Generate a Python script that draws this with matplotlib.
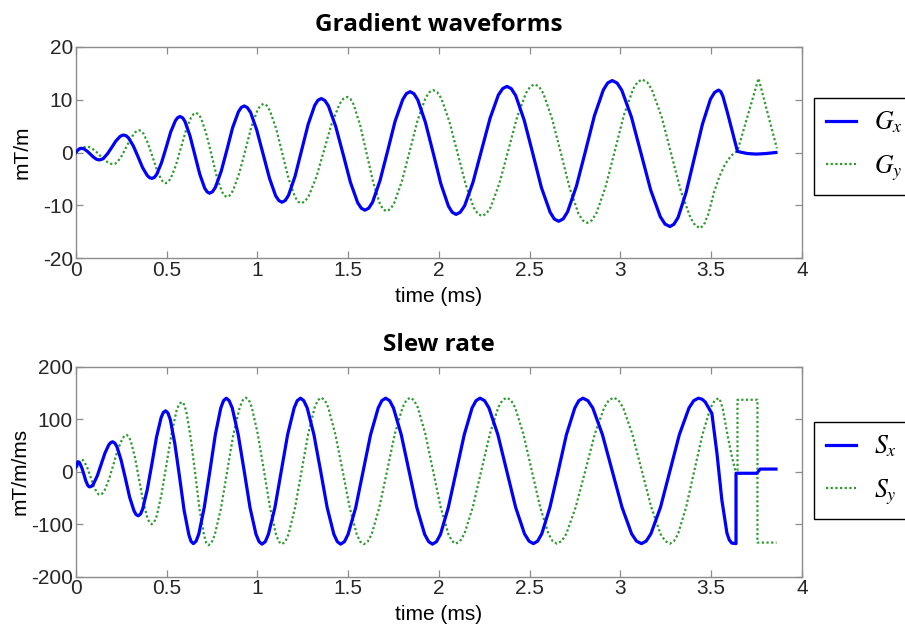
import matplotlib
matplotlib.use("Agg")
import matplotlib.pyplot as plt

# Gradient waveforms (mT/m)
gx_t = [0.000, 0.010, 0.020, 0.030,
        0.038, 0.047, 0.063, 0.080, 0.097, 0.113, 0.122, 0.130,
        0.141, 0.153, 0.175, 0.198, 0.220, 0.243, 0.254, 0.265,
        0.278, 0.291, 0.317, 0.343, 0.368, 0.394, 0.407, 0.420,
        0.433, 0.446, 0.472, 0.498, 0.523, 0.549, 0.562, 0.575,
        0.589, 0.602, 0.629, 0.656, 0.683, 0.710, 0.724, 0.737,
        0.753, 0.769, 0.801, 0.833, 0.864, 0.896, 0.912, 0.928,
        0.945, 0.963, 0.997, 1.032, 1.067, 1.101, 1.119, 1.136,
        1.154, 1.172, 1.208, 1.244, 1.280, 1.316, 1.334, 1.352,
        1.372, 1.392, 1.432, 1.473, 1.513, 1.553, 1.573, 1.593,
        1.614, 1.635, 1.676, 1.718, 1.759, 1.801, 1.821, 1.842,
        1.863, 1.884, 1.926, 1.969, 2.011, 2.053, 2.074, 2.095,
        2.118, 2.142, 2.188, 2.235, 2.282, 2.328, 2.352, 2.375,
        2.399, 2.423, 2.470, 2.518, 2.565, 2.613, 2.636, 2.660,
        2.685, 2.709, 2.758, 2.808, 2.857, 2.906, 2.930, 2.955,
        2.982, 3.008, 3.061, 3.114, 3.167, 3.220, 3.246, 3.273,
        3.295, 3.318, 3.362, 3.407, 3.452, 3.496, 3.519, 3.541,
        3.553, 3.565, 3.590, 3.618, 3.645, 3.700, 3.750, 3.800, 3.857]
gx_v = [0.0, 0.4, 0.7, 0.8,
        0.76, 0.65, 0.25, -0.3, -0.85, -1.25, -1.36, -1.4,
        -1.32, -1.09, -0.23, 0.95, 2.13, 2.99, 3.22, 3.3,
        3.16, 2.75, 1.25, -0.8, -2.85, -4.35, -4.76, -4.9,
        -4.70, -4.12, -1.98, 0.95, 3.88, 6.02, 6.60, 6.8,
        6.55, 5.83, 3.18, -0.45, -4.08, -6.73, -7.45, -7.7,
        -7.42, -6.59, -3.58, 0.55, 4.68, 7.69, 8.52, 8.8,
        8.49, 7.58, 4.25, -0.3, -4.85, -8.18, -9.09, -9.4,
        -9.07, -8.09, -4.5, 0.4, 5.3, 8.89, 9.87, 10.2,
        9.84, 8.79, 4.93, -0.35, -5.63, -9.49, -10.54, -10.9,
        -10.52, -9.4, -5.3, 0.3, 5.9, 10.0, 11.12, 11.5,
        11.11, 9.95, 5.7, -0.1, -5.9, -10.15, -11.31, -11.7,
        -11.29, -10.08, -5.65, 0.4, 6.45, 10.88, 12.09, 12.5,
        12.07, 10.79, 6.13, -0.25, -6.63, -11.29, -12.57, -13.0,
        -12.55, -11.22, -6.35, 0.3, 6.95, 11.82, 13.15, 13.6,
        13.13, 11.75, 6.7, -0.2, -7.1, -12.15, -13.53, -14.0,
        -13.56, -12.27, -7.55, -1.1, 5.35, 10.07, 11.36, 11.8,
        11.5, 10.6, 7.5, 3.8, 0.2, -0.2, -0.3, -0.2, 0.0]

gy_t = [0.000, 0.020, 0.040, 0.060,
        0.072, 0.084, 0.109, 0.133, 0.157, 0.182, 0.194, 0.206,
        0.218, 0.230, 0.254, 0.278, 0.302, 0.326, 0.338, 0.350,
        0.362, 0.374, 0.398, 0.423, 0.447, 0.471, 0.483, 0.495,
        0.509, 0.523, 0.551, 0.579, 0.607, 0.635, 0.649, 0.663,
        0.677, 0.691, 0.719, 0.748, 0.776, 0.804, 0.818, 0.832,
        0.849, 0.866, 0.900, 0.934, 0.967, 1.001, 1.018, 1.035,
        1.052, 1.069, 1.104, 1.138, 1.172, 1.207, 1.224, 1.241,
        1.262, 1.283, 1.326, 1.368, 1.410, 1.453, 1.474, 1.495,
        1.513, 1.531, 1.567, 1.603, 1.639, 1.675, 1.693, 1.711,
        1.733, 1.754, 1.797, 1.840, 1.883, 1.926, 1.948, 1.969,
        1.991, 2.014, 2.058, 2.103, 2.148, 2.192, 2.215, 2.237,
        2.261, 2.286, 2.334, 2.383, 2.431, 2.480, 2.504, 2.528,
        2.552, 2.576, 2.624, 2.673, 2.721, 2.769, 2.793, 2.817,
        2.842, 2.868, 2.918, 2.969, 3.019, 3.070, 3.095, 3.120,
        3.147, 3.173, 3.227, 3.280, 3.333, 3.387, 3.413, 3.440,
        3.460, 3.485, 3.515, 3.545, 3.575, 3.610, 3.645, 3.761, 3.862]
gy_v = [0.0, 0.5, 0.95, 1.1,
        1.04, 0.88, 0.28, -0.55, -1.38, -1.98, -2.14, -2.2,
        -2.09, -1.77, -0.6, 1.0, 2.6, 3.77, 4.09, 4.2,
        4.03, 3.53, 1.7, -0.8, -3.3, -5.13, -5.63, -5.8,
        -5.57, -4.91, -2.48, 0.85, 4.18, 6.61, 7.27, 7.5,
        7.23, 6.43, 3.53, -0.45, -4.43, -7.33, -8.13, -8.4,
        -8.1, -7.22, -4.0, 0.4, 4.8, 8.02, 8.9, 9.2,
        8.88, 7.94, 4.5, -0.2, -4.9, -8.34, -9.28, -9.6,
        -9.26, -8.25, -4.58, 0.45, 5.48, 9.15, 10.16, 10.5,
        10.13, 9.05, 5.1, -0.3, -5.7, -9.65, -10.73, -11.1,
        -10.71, -9.57, -5.38, 0.35, 6.08, 10.27, 11.41, 11.8,
        11.4, 10.21, 5.85, -0.1, -6.05, -10.41, -11.6, -12.0,
        -11.58, -10.33, -5.78, 0.45, 6.68, 11.23, 12.48, 12.9,
        12.45, 11.14, 6.35, -0.2, -6.75, -11.54, -12.85, -13.3,
        -12.84, -11.48, -6.53, 0.25, 7.03, 11.98, 13.34, 13.8,
        13.32, 11.92, 6.78, -0.25, -7.28, -12.42, -13.82, -14.3,
        -13.7, -11.6, -7.6, -4.6, -2.3, -0.6, 0.3, 14.0, 0.8]

# Slew rate (mT/m/ms)
sx_t = [0.000, 0.012,
        0.017, 0.023, 0.034, 0.045, 0.055, 0.066, 0.072, 0.077,
        0.088, 0.098, 0.119, 0.140, 0.161, 0.182, 0.193, 0.203,
        0.215, 0.227, 0.250, 0.274, 0.297, 0.321, 0.332, 0.344,
        0.357, 0.369, 0.394, 0.420, 0.445, 0.470, 0.482, 0.495,
        0.508, 0.521, 0.546, 0.572, 0.597, 0.623, 0.635, 0.648,
        0.663, 0.678, 0.708, 0.739, 0.769, 0.799, 0.814, 0.829,
        0.845, 0.862, 0.895, 0.928, 0.960, 0.993, 1.010, 1.026,
        1.044, 1.061, 1.097, 1.132, 1.167, 1.203, 1.220, 1.238,
        1.256, 1.275, 1.312, 1.349, 1.385, 1.422, 1.441, 1.459,
        1.480, 1.500, 1.542, 1.583, 1.624, 1.666, 1.686, 1.707,
        1.729, 1.750, 1.793, 1.836, 1.879, 1.922, 1.944, 1.965,
        1.987, 2.009, 2.052, 2.096, 2.140, 2.183, 2.205, 2.227,
        2.252, 2.276, 2.325, 2.374, 2.423, 2.472, 2.497, 2.521,
        2.544, 2.567, 2.612, 2.658, 2.703, 2.749, 2.771, 2.794,
        2.821, 2.848, 2.901, 2.955, 3.009, 3.062, 3.089, 3.116,
        3.142, 3.168, 3.221, 3.273, 3.325, 3.378, 3.404, 3.430,
        3.450, 3.467, 3.504, 3.532, 3.559, 3.587, 3.600, 3.614, 3.637,
        3.637, 3.752, 3.770, 3.857]
sx_v = [8, 19,
        18.2, 15.8, 7, -5, -17, -25.8, -28.2, -29,
        -27.5, -23.2, -7.5, 14, 35.5, 51.2, 55.5, 57,
        54.6, 47.6, 21.8, -13.5, -48.8, -74.6, -81.6, -84,
        -80.6, -70.6, -34, 16, 66, 102.6, 112.6, 116,
        111.7, 99, 52.8, -10.5, -73.8, -120, -132.7, -137,
        -132.3, -118.4, -67.8, 1.5, 70.8, 121.4, 135.3, 140,
        135.3, 121.4, 70.5, 1, -68.5, -119.4, -133.3, -138,
        -133.3, -119.4, -68.5, 1, 70.5, 121.4, 135.3, 140,
        135.3, 121.4, 70.5, 1, -68.5, -119.4, -133.3, -138,
        -133.3, -119.4, -68.5, 1, 70.5, 121.4, 135.3, 140,
        135.3, 121.4, 70.5, 1, -68.5, -119.4, -133.3, -138,
        -133.3, -119.4, -68.5, 1, 70.5, 121.4, 135.3, 140,
        135.3, 121.4, 70.8, 1.5, -67.8, -118.4, -132.3, -137,
        -132.3, -118.4, -67.8, 1.5, 70.8, 121.4, 135.3, 140,
        135.3, 121.4, 70.8, 1.5, -67.8, -118.4, -132.3, -137,
        -132.3, -118.4, -67.8, 1.5, 70.8, 121.4, 135.3, 140,
        138, 133, 111, 35, -54, -117, -130, -136, -137,
        -3, -3, 5, 5]

sy_t = [0.000, 0.015, 0.031,
        0.040, 0.048, 0.065, 0.082, 0.099, 0.116, 0.125, 0.133,
        0.145, 0.158, 0.182, 0.207, 0.231, 0.256, 0.268, 0.280,
        0.292, 0.303, 0.326, 0.349, 0.372, 0.395, 0.407, 0.418,
        0.432, 0.446, 0.473, 0.501, 0.529, 0.556, 0.570, 0.584,
        0.596, 0.609, 0.633, 0.658, 0.682, 0.707, 0.719, 0.731,
        0.748, 0.765, 0.800, 0.834, 0.868, 0.903, 0.920, 0.937,
        0.954, 0.970, 1.003, 1.037, 1.070, 1.103, 1.119, 1.136,
        1.154, 1.172, 1.208, 1.244, 1.280, 1.316, 1.334, 1.352,
        1.372, 1.391, 1.430, 1.470, 1.509, 1.548, 1.567, 1.587,
        1.608, 1.630, 1.672, 1.715, 1.757, 1.800, 1.821, 1.842,
        1.863, 1.884, 1.926, 1.968, 2.010, 2.052, 2.073, 2.094,
        2.117, 2.141, 2.187, 2.234, 2.281, 2.327, 2.351, 2.374,
        2.397, 2.420, 2.466, 2.512, 2.558, 2.604, 2.627, 2.650,
        2.676, 2.702, 2.754, 2.807, 2.859, 2.911, 2.937, 2.963,
        2.989, 3.015, 3.066, 3.118, 3.170, 3.221, 3.247, 3.273,
        3.295, 3.318, 3.362, 3.407, 3.452, 3.496, 3.519, 3.541,
        3.553, 3.565, 3.590, 3.612, 3.633, 3.645, 3.645, 3.755, 3.755, 3.860]
sy_v = [0, 15, 23,
        21.9, 18.5, 6.3, -10.5, -27.3, -39.5, -42.9, -44,
        -42.1, -36.4, -15.5, 13, 41.5, 62.4, 68.1, 70,
        67.1, 58.6, 27.5, -15, -57.5, -88.6, -97.1, -100,
        -96, -84.4, -41.8, 16.5, 74.8, 117.4, 129, 133,
        128.4, 114.7, 64.8, -3.5, -71.8, -121.7, -135.4, -140,
        -135.2, -121.2, -69.8, 0.5, 70.8, 122.2, 136.2, 141,
        136.3, 122.3, 71.3, 1.5, -68.3, -119.3, -133.3, -138,
        -133.3, -119.3, -68.3, 1.5, 71.3, 122.3, 136.3, 141,
        136.3, 122.3, 71.3, 1.5, -68.3, -119.3, -133.3, -138,
        -133.3, -119.3, -68.3, 1.5, 71.3, 122.3, 136.3, 141,
        136.3, 122.4, 71.5, 2, -67.5, -118.4, -132.3, -137,
        -132.3, -118.4, -67.5, 2, 71.5, 122.4, 136.3, 141,
        136.3, 122.4, 71.5, 2, -67.5, -118.4, -132.3, -137,
        -132.3, -118.4, -67.5, 2, 71.5, 122.4, 136.3, 141,
        136.3, 122.4, 71.5, 2, -67.5, -118.4, -132.3, -137,
        -132.3, -118.4, -67.8, 1.5, 70.8, 121.4, 135.3, 140,
        133, 118, 70, 32, 2, 2, 137, 137, -135, -135]

x_ticks = [0, 0.5, 1, 1.5, 2, 2.5, 3, 3.5, 4]
x_tick_labels = ["0", "0.5", "1", "1.5", "2", "2.5", "3", "3.5", "4"]


def style_axes(ax, ylim, yticks):
    ax.set_xlim(0, 4)
    ax.set_ylim(*ylim)
    ax.set_xticks(x_ticks)
    ax.set_xticklabels(x_tick_labels)
    ax.set_yticks(yticks)
    for spine in ax.spines.values():
        spine.set_color("#8c8c8c")
        spine.set_linewidth(1.0)
    ax.tick_params(direction="in", top=True, right=True, length=5,
                   width=0.9, color="#8c8c8c", labelsize=15,
                   labelcolor="#262626", pad=2)


def plot_pair(ax, t1, v1, t2, v2, labels):
    ax.plot(t1, v1, color="#0000ff", lw=2.3, label=labels[0],
            solid_joinstyle="round", zorder=3)
    ax.plot(t2, v2, color="#2e9a2e", lw=1.6, linestyle=(0, (1, 1.1)),
            label=labels[1], zorder=2)


def main(output_path="out.png"):
    plt.rcParams["font.family"] = ["Liberation Sans", "DejaVu Sans"]
    plt.rcParams["mathtext.fontset"] = "stix"
    plt.rcParams["axes.unicode_minus"] = False

    fig = plt.figure(figsize=(9.05, 6.32), dpi=100)
    ax1 = fig.add_axes([0.0837, 0.5913, 0.8024, 0.3348])
    ax2 = fig.add_axes([0.0837, 0.0875, 0.8024, 0.3323])

    plot_pair(ax1, gx_t, gx_v, gy_t, gy_v, [r"$G_x$", r"$G_y$"])
    style_axes(ax1, (-20, 20), [-20, -10, 0, 10, 20])
    ax1.set_title("Gradient waveforms", fontsize=17.5, fontweight="bold",
                  family="Open Sans", pad=11)
    ax1.set_ylabel("mT/m", fontsize=15, labelpad=8)
    ax1.set_xlabel("time (ms)", fontsize=15, labelpad=5)

    plot_pair(ax2, sx_t, sx_v, sy_t, sy_v, [r"$S_x$", r"$S_y$"])
    style_axes(ax2, (-200, 200), [-200, -100, 0, 100, 200])
    ax2.set_title("Slew rate", fontsize=17.5, fontweight="bold",
                  family="Open Sans", pad=11)
    ax2.set_ylabel("mT/m/ms", fontsize=15, labelpad=1)
    ax2.set_xlabel("time (ms)", fontsize=15, labelpad=5)

    for ax, top in ((ax1, 98), (ax2, 422)):
        leg = ax.legend(loc="upper left", bbox_to_anchor=(814 / 905, 1 - top / 632),
                        bbox_transform=fig.transFigure, fontsize=18.5,
                        fancybox=False, framealpha=1, edgecolor="black",
                        borderaxespad=0, borderpad=0.45, handlelength=1.2,
                        handletextpad=0.7, labelspacing=0.72)
        leg.get_frame().set_linewidth(1.0)

    fig.savefig(output_path, dpi=100)
    plt.close(fig)


if __name__ == "__main__":
    main()
